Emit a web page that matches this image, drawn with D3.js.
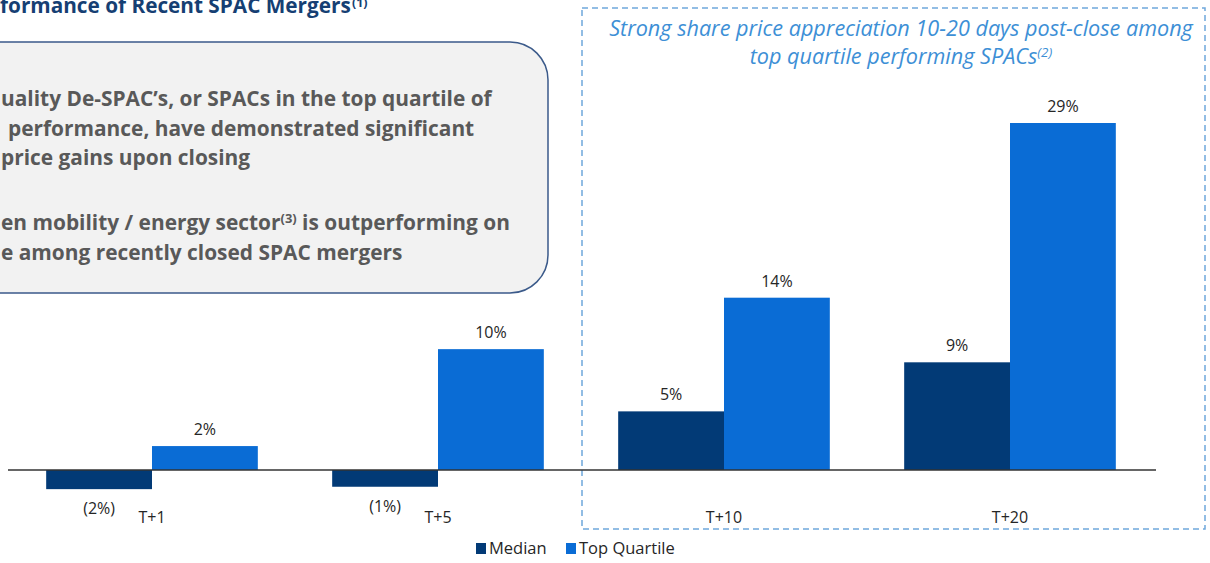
<!DOCTYPE html>
<html>
<head>
<meta charset="utf-8">
<script src="https://cdn.jsdelivr.net/npm/d3@7"></script>
<style>
  body { margin: 0; background: #fff; }
  svg { display: block; font-family: "Open Sans", Lato, sans-serif; }
</style>
</head>
<body>
<div id="chart"></div>
<script>
// data
const periods = ["T+1", "T+5", "T+10", "T+20"];
const seriesNames = ["Median", "Top Quartile"];
const medianVals = [-1.6, -1.4, 4.9, 9.0];
const topQuartileVals = [2.0, 10.1, 14.4, 29.0];
const colors = ["#023a76", "#0a6cd5"];

const W = 1210, H = 563;

const svg = d3.select("#chart").append("svg")
    .attr("width", W)
    .attr("height", H);

// size a text so it spans the given width
function fit(sel, width) {
  sel.attr("font-size", 20);
  const len = sel.node().getComputedTextLength();
  const fs = 20 * width / len;
  sel.attr("font-size", fs);
  return fs;
}

// scales
const x = d3.scaleBand()
    .domain(periods)
    .range([9, 1153])
    .paddingInner(0.26)
    .paddingOuter(0.13);

const xs = d3.scaleBand()
    .domain(seriesNames)
    .range([0, x.bandwidth()]);

const y = d3.scaleLinear()
    .domain([0, 29])
    .range([470, 123]);

const rows = periods.map((p, i) => ({
  period: p,
  vals: [
    {s: seriesNames[0], v: medianVals[i]},
    {s: seriesNames[1], v: topQuartileVals[i]}
  ]
}));

const fmt = v => v < 0 ? "(" + Math.round(-v) + "%)" : Math.round(v) + "%";

// title (left part runs off the page in the source)
const title = svg.append("text")
    .attr("x", 0).attr("y", 13)
    .attr("fill", "#163f73")
    .attr("font-weight", "bold")
    .text("formance of Recent SPAC Mergers");
const tfs = fit(title, 351);
svg.append("text")
    .attr("x", 352).attr("y", 7)
    .attr("fill", "#163f73")
    .attr("font-weight", "bold")
    .attr("font-size", tfs * 0.6)
    .text("(1)");

// callout box
svg.append("rect")
    .attr("x", -80).attr("y", 42)
    .attr("width", 628).attr("height", 251)
    .attr("rx", 38)
    .attr("fill", "#f2f2f2")
    .attr("stroke", "#3b5a8a")
    .attr("stroke-width", 1.5);

const l1 = svg.append("text")
    .attr("x", 1).attr("y", 106)
    .attr("fill", "#595959")
    .attr("font-weight", "bold")
    .text("uality De-SPAC’s, or SPACs in the top quartile of");
const bfs = fit(l1, 491);

const boxLines = [
  {t: "performance, have demonstrated significant", x: 8, y: 136},
  {t: "price gains upon closing", x: 1, y: 165},
  {t: "e among recently closed SPAC mergers", x: 1, y: 260}
];
boxLines.forEach(l => {
  svg.append("text")
      .attr("x", l.x).attr("y", l.y)
      .attr("fill", "#595959")
      .attr("font-weight", "bold")
      .attr("font-size", bfs)
      .text(l.t);
});

const l4 = svg.append("text")
    .attr("x", 1).attr("y", 230)
    .attr("fill", "#595959")
    .attr("font-weight", "bold")
    .attr("font-size", bfs);
l4.append("tspan").text("en mobility / energy sector");
l4.append("tspan").attr("dy", -7).attr("font-size", bfs * 0.62).text("(3)");
l4.append("tspan").attr("dy", 7).text(" is outperforming on");

// dashed highlight box
svg.append("rect")
    .attr("x", 582).attr("y", 8)
    .attr("width", 623).attr("height", 521)
    .attr("fill", "none")
    .attr("stroke", "#6fa8dc")
    .attr("stroke-width", 1.5)
    .attr("stroke-dasharray", "6,4");

const n1 = svg.append("text")
    .attr("x", 901).attr("y", 36)
    .attr("text-anchor", "middle")
    .attr("fill", "#3d8fd6")
    .attr("font-style", "italic")
    .text("Strong share price appreciation 10-20 days post-close among");
const ifs = fit(n1, 584);

const n2 = svg.append("text")
    .attr("x", 901).attr("y", 64)
    .attr("text-anchor", "middle")
    .attr("fill", "#3d8fd6")
    .attr("font-style", "italic")
    .attr("font-size", ifs);
n2.append("tspan").text("top quartile performing SPACs");
n2.append("tspan").attr("dy", -7).attr("font-size", ifs * 0.62).text("(2)");

// bars
const g = svg.selectAll("g.grp")
  .data(rows)
  .join("g")
    .attr("class", "grp")
    .attr("transform", d => `translate(${x(d.period)},0)`);

g.selectAll("rect")
  .data(d => d.vals)
  .join("rect")
    .attr("x", d => xs(d.s))
    .attr("width", xs.bandwidth())
    .attr("y", d => Math.min(y(d.v), y(0)))
    .attr("height", d => Math.abs(y(d.v) - y(0)))
    .attr("fill", (d, i) => colors[i]);

g.selectAll("text.val")
  .data(d => d.vals)
  .join("text")
    .attr("class", "val")
    .attr("x", d => xs(d.s) + xs.bandwidth() / 2)
    .attr("y", d => d.v >= 0 ? y(d.v) - 11 : y(d.v) + 25)
    .attr("text-anchor", "middle")
    .attr("font-size", 16)
    .attr("fill", "#262626")
    .text(d => fmt(d.v));

// baseline
svg.append("line")
    .attr("x1", 8).attr("x2", 1156)
    .attr("y1", y(0)).attr("y2", y(0))
    .attr("stroke", "#333")
    .attr("stroke-width", 1.5);

// category labels
svg.append("g")
  .selectAll("text")
  .data(periods)
  .join("text")
    .attr("x", d => x(d) + x.bandwidth() / 2)
    .attr("y", 523)
    .attr("text-anchor", "middle")
    .attr("font-size", 16)
    .attr("fill", "#262626")
    .text(d => d);

// legend
const legX = [476, 566];
const leg = svg.append("g")
  .selectAll("g")
  .data(seriesNames)
  .join("g")
    .attr("transform", (d, i) => `translate(${legX[i]},543)`);
leg.append("rect")
    .attr("width", 10).attr("height", 11)
    .attr("fill", (d, i) => colors[i]);
leg.append("text")
    .attr("x", 13).attr("y", 11)
    .attr("font-size", 16.5)
    .attr("fill", "#262626")
    .text(d => d);
</script>
</body>
</html>
